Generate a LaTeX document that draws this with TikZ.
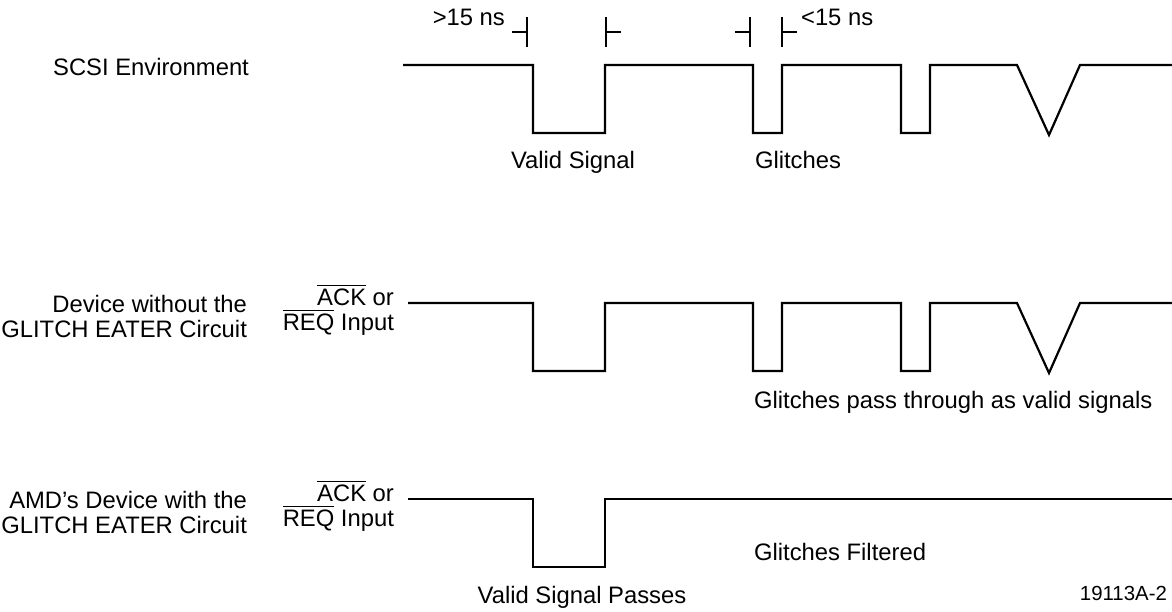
\documentclass[tikz,border=0pt]{standalone}
\usepackage{fontspec}
\setmainfont{Liberation Sans}
\usetikzlibrary{calc}

\newcommand{\ovlbar}[1]{$\overline{\mbox{#1}}$}

\begin{document}
\begin{tikzpicture}[x=0.5pt,y=-0.5pt,line width=1.1pt,
  lbl/.style={inner sep=0pt,font=\fontsize{11.9}{12.5}\selectfont},
  figno/.style={inner sep=0pt,font=\fontsize{10.2}{12}\selectfont}]
\def\h{68}
\useasboundingbox (0,0) rectangle (1172,611);

% left hand labels
\node[lbl,anchor=base east] (scsi) at (250,75) {SCSI Environment};
\node[lbl,anchor=base east,align=right] (without) at (248,337) {Device without the\\GLITCH EATER Circuit};
\node[lbl,anchor=base east,align=right] (with) at (248,533) {AMD’s Device with the\\GLITCH EATER Circuit};
\node[lbl,anchor=base east,align=right] (in1) at (395,330) {\ovlbar{ACK} or\\\ovlbar{REQ} Input};
\node[lbl,anchor=base east,align=right] (in2) at (395,526) {\ovlbar{ACK} or\\\ovlbar{REQ} Input};

% pulse width marks
\foreach \mx/\md in {527/-1,606/1,750/-1,782/1}
  \draw (\mx,17) -- (\mx,47) (\mx,32) -- ++(15*\md,0);
\node[lbl,anchor=base east] (gt) at (506,25) {>15 ns};
\node[lbl,anchor=base west] (lt) at (800,25) {<15 ns};

% waveforms
\begin{scope}[shift={(0,65)}]
\draw (403,0) -- (533,0) |- (605,\h) |- (753,0) |- (782,\h) |- (901,0) |- (930,\h)
  |- (1017,0) -- (1049,\h+2) -- (1080,0) -- (1172,0);
\end{scope}
\begin{scope}[shift={(0,303)}]
\draw (408,0) -- (533,0) |- (605,\h) |- (753,0) |- (782,\h) |- (901,0) |- (930,\h)
  |- (1017,0) -- (1049,\h+2) -- (1080,0) -- (1172,0);
\end{scope}
\begin{scope}[shift={(0,499)}]
\draw (408,0) -- (533,0) |- (605,\h) |- (1172,0);
\end{scope}

% captions
\node[lbl,anchor=base] (valid) at (573,168) {Valid Signal};
\node[lbl,anchor=base] (glitch) at (798,168) {Glitches};
\node[lbl,anchor=base west] (pass) at (753,408) {Glitches pass through as valid signals};
\node[lbl,anchor=base west] (filt) at (753,560) {Glitches Filtered};
\node[lbl,anchor=base] (passes) at (582,603) {Valid Signal Passes};
\node[figno,anchor=base east] (fig) at (1168,600) {19113A-2};
\end{tikzpicture}
\end{document}
